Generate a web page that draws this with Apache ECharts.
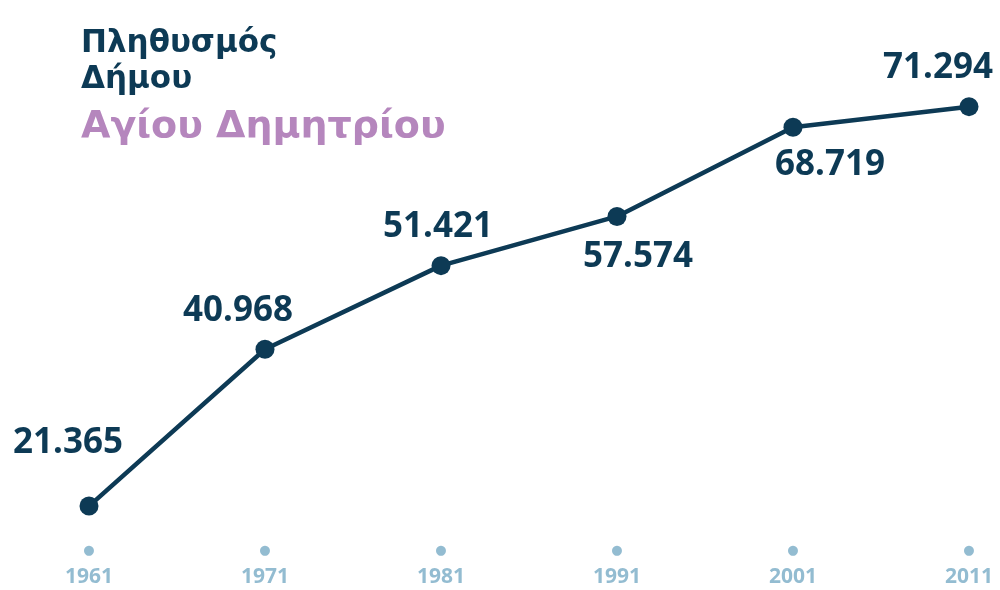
<!DOCTYPE html>
<html>
<head>
<meta charset="utf-8">
<script src="https://cdn.jsdelivr.net/npm/echarts@6/dist/echarts.min.js"></script>
<style>
  html, body { margin: 0; padding: 0; background: #fff; }
  #main { width: 1000px; height: 590px; }
</style>
</head>
<body>
<div id="main"></div>
<script>
// δεδομένα
var years = ['1961', '1971', '1981', '1991', '2001', '2011'];
var population = [21365, 40968, 51421, 57574, 68719, 71294];

var navy = '#0d3a55';
var purple = '#b586bd';
var lightBlue = '#93bcd1';
var font = '"Noto Sans", "DejaVu Sans", sans-serif';
var titleFont = '"DejaVu Sans", sans-serif';

// θέση ετικέτας για κάθε σημείο [dx, dy]
var labelOffsets = [[-21, -63], [-27, -38], [-3, -39], [21, 41], [37, 38], [-31, -39]];

function fmt(v) {
  return String(v).replace(/\B(?=(\d{3})+(?!\d))/g, '.');
}

var seriesData = population.map(function (v, i) {
  return {
    value: v,
    label: {
      position: 'inside',
      offset: labelOffsets[i]
    }
  };
});

var myChart = echarts.init(document.getElementById('main'));
var option = {
  animation: false,
  title: [
    {
      text: 'Πληθυσμός\nΔήμου',
      left: 76,
      top: 21,
      textStyle: { color: navy, fontSize: 31, fontWeight: 'bold', fontFamily: titleFont, lineHeight: 36 }
    },
    {
      text: 'Αγίου Δημητρίου',
      left: 76,
      top: 103,
      textStyle: { color: purple, fontSize: 38, fontWeight: 'bold', fontFamily: titleFont }
    }
  ],
  grid: { left: 89, right: 31, top: 77, bottom: 33 },
  xAxis: {
    type: 'category',
    data: years,
    boundaryGap: false,
    axisLine: { show: false },
    axisTick: { show: false },
    splitLine: { show: false },
    axisLabel: {
      margin: -18,
      formatter: function (v) { return '{dot|●}\n{year|' + v + '}'; },
      rich: {
        dot: { color: lightBlue, fontSize: 13, lineHeight: 24, fontFamily: '"DejaVu Sans"' },
        year: { color: lightBlue, fontSize: 21, fontWeight: 'bold', fontFamily: '"Liberation Sans Narrow", "Noto Sans", sans-serif', lineHeight: 28 }
      }
    }
  },
  yAxis: {
    type: 'value',
    min: 15000,
    max: 75000,
    show: false,
    splitLine: { show: false }
  },
  series: [
    {
      type: 'line',
      data: seriesData,
      symbol: 'circle',
      symbolSize: 19,
      itemStyle: { color: navy },
      lineStyle: { color: navy, width: 4.5 },
      label: {
        show: true,
        color: navy,
        fontSize: 35,
        fontWeight: 'bold',
        fontFamily: font,
        formatter: function (p) { return fmt(p.value); }
      }
    }
  ]
};
myChart.setOption(option);
</script>
</body>
</html>
